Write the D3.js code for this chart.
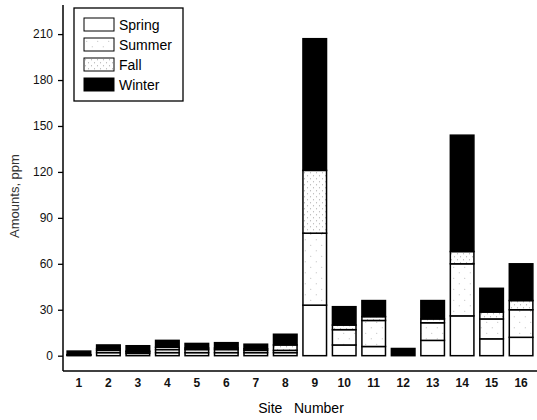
<!DOCTYPE html>
<html>
<head>
<meta charset="utf-8">
<script src="https://cdn.jsdelivr.net/npm/d3@7/dist/d3.min.js"></script>
<style>
  html, body { margin: 0; padding: 0; background: #fff; }
  svg { display: block; font-family: "Liberation Sans", Arial, Helvetica, sans-serif; }
</style>
</head>
<body>
<svg id="chart" width="537" height="420"></svg>
<script>
// Seasonal amounts (ppm) at each sampling site
const sites  = ["1","2","3","4","5","6","7","8","9","10","11","12","13","14","15","16"];
const spring = [0.3, 2, 1.5, 2, 2, 2, 2, 2, 33, 7, 6, 0, 10, 26, 11, 12];
const summer = [0.2, 1.5, 1, 2, 2, 2, 1.5, 1.5, 47, 10, 17, 0, 11.5, 34, 13, 18];
const fall   = [0.2, 1, 0.5, 1.5, 1, 1, 1, 3.5, 41, 3, 2.5, 0, 2.5, 8, 4.5, 6];
const winter = [2.3, 2.5, 3.5, 4.5, 3, 3.5, 3, 7, 86, 12, 10.5, 4.7, 12, 76, 15.5, 24];
const seasons = ["Spring", "Summer", "Fall", "Winter"];
const yTicks = [0, 30, 60, 90, 120, 150, 180, 210];

const svg = d3.select("#chart");

// Fill patterns for the seasons
const defs = svg.append("defs");
function dotPattern(id, spacing, r, color) {
  const p = defs.append("pattern")
    .attr("id", id).attr("patternUnits", "userSpaceOnUse")
    .attr("width", spacing).attr("height", spacing);
  p.append("rect").attr("width", spacing).attr("height", spacing).attr("fill", "#fff");
  p.append("circle").attr("cx", spacing * 0.25).attr("cy", spacing * 0.3).attr("r", r).attr("fill", color);
  p.append("circle").attr("cx", spacing * 0.75).attr("cy", spacing * 0.8).attr("r", r).attr("fill", color);
}
dotPattern("pSummer", 11, 0.5, "#aaa");
dotPattern("pFall", 6, 0.55, "#999");

const fills = {
  Spring: "#fff",
  Summer: "url(#pSummer)",
  Fall: "url(#pFall)",
  Winter: "#000"
};

const x = d3.scaleBand().domain(sites).range([63, 537]).paddingInner(0.2).paddingOuter(0.14);
const y = d3.scaleLinear().domain([-10, 229]).range([371, 5]);

// Stack the seasons per site
const rows = sites.map((s, i) => ({
  site: s, Spring: spring[i], Summer: summer[i], Fall: fall[i], Winter: winter[i]
}));
const stacked = d3.stack().keys(seasons)(rows);

const layers = svg.append("g").selectAll("g")
  .data(stacked).join("g")
  .attr("fill", d => fills[d.key]);

layers.selectAll("rect")
  .data(d => d.filter(s => s[1] - s[0] > 0))
  .join("rect")
  .attr("x", d => x(d.data.site))
  .attr("width", x.bandwidth())
  .attr("y", d => y(d[1]))
  .attr("height", d => y(d[0]) - y(d[1]))
  .attr("stroke", "#000")
  .attr("stroke-width", 1.5);

// Y axis
const yAxis = svg.append("g")
  .attr("transform", "translate(63,0)")
  .call(d3.axisLeft(y).tickValues(yTicks).tickSize(5).tickPadding(5));
yAxis.select(".domain").remove();
yAxis.append("line")
  .attr("x1", 0).attr("x2", 0).attr("y1", 5).attr("y2", 371)
  .attr("stroke", "#000").attr("stroke-width", 1.5);
yAxis.selectAll(".tick line").attr("stroke-width", 1.3);
yAxis.selectAll("text").attr("font-size", 12).attr("fill", "#111");

// X axis
const xAxis = svg.append("g")
  .attr("transform", "translate(0,371)")
  .call(d3.axisBottom(x).tickSize(0).tickPadding(7));
xAxis.select(".domain").remove();
xAxis.append("line")
  .attr("x1", 63).attr("x2", 537).attr("y1", 0).attr("y2", 0)
  .attr("stroke", "#000").attr("stroke-width", 1.5);
xAxis.selectAll("text").attr("font-size", 12).attr("font-weight", "bold").attr("fill", "#111");

// Axis titles
svg.append("text")
  .attr("x", 301).attr("y", 413)
  .attr("text-anchor", "middle")
  .attr("font-size", 14)
  .style("white-space", "pre")
  .text("Site   Number");

svg.append("text")
  .attr("transform", "translate(19,196) rotate(-90)")
  .attr("text-anchor", "middle")
  .attr("font-size", 13)
  .attr("fill", "#333")
  .text("Amounts, ppm");

// Legend
const legend = svg.append("g");
legend.append("rect")
  .attr("x", 74).attr("y", 8).attr("width", 109).attr("height", 93)
  .attr("fill", "#fff").attr("stroke", "#000").attr("stroke-width", 1.3);
const items = legend.selectAll("g.item")
  .data(seasons).join("g")
  .attr("class", "item")
  .attr("transform", (d, i) => `translate(84,${18 + i * 20})`);
items.append("rect")
  .attr("width", 30).attr("height", 13)
  .attr("fill", d => fills[d])
  .attr("stroke", "#000").attr("stroke-width", 1);
items.append("text")
  .attr("x", 35).attr("y", 7)
  .attr("dy", "0.35em")
  .attr("font-size", 14)
  .text(d => d);
</script>
</body>
</html>
